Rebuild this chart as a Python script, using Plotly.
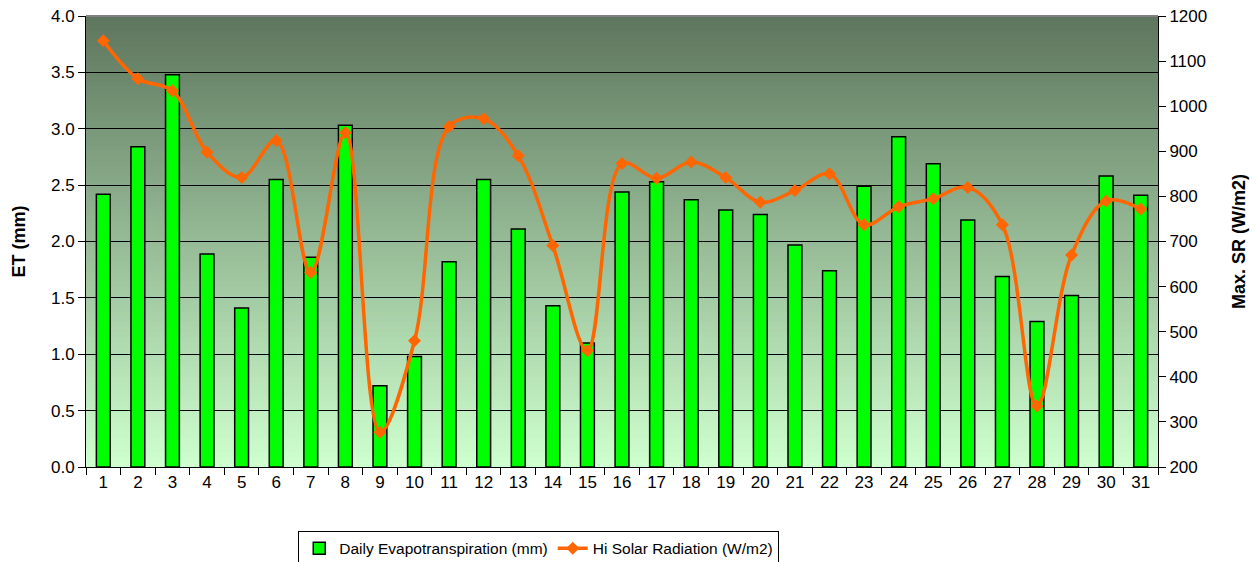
import plotly.graph_objects as go

days = [str(d) for d in range(1, 32)]
et_mm = [2.42, 2.84, 3.48, 1.89, 1.41, 2.55, 1.86, 3.03, 0.72, 0.98,
         1.82, 2.55, 2.11, 1.43, 1.10, 2.44, 2.53, 2.37, 2.28, 2.24,
         1.97, 1.74, 2.49, 2.93, 2.69, 2.19, 1.69, 1.29, 1.52, 2.58, 2.41]
hi_sr = [1145, 1061, 1034, 898, 842, 924, 631, 941, 277, 480,
         955, 972, 890, 691, 458, 873, 840, 876, 842, 787,
         813, 850, 737, 777, 795, 820, 737, 335, 670, 790, 772]

FONT = "Liberation Sans, Arial, sans-serif"

fig = go.Figure()
fig.add_trace(go.Bar(
    x=days, y=et_mm, name="Daily Evapotranspiration (mm)",
    marker=dict(color="#00FF00", line=dict(color="black", width=1.5)),
    yaxis="y",
))
fig.add_trace(go.Scatter(
    x=days, y=hi_sr, name="Hi Solar Radiation (W/m2)",
    mode="lines+markers", line=dict(color="#FF6600", width=3.5, shape="spline", smoothing=1.0),
    marker=dict(symbol="diamond", size=10, color="#FF6600"),
    yaxis="y2",
))

# vertical gradient background in the plot area
top = (94, 118, 94)
bot = (206, 255, 206)
n = 90
shapes = []
for i in range(n):
    t = i / (n - 1)
    c = tuple(int(round(bot[k] + (top[k] - bot[k]) * t)) for k in range(3))
    shapes.append(dict(type="rect", xref="paper", yref="paper",
                       x0=0, x1=1, y0=i / n, y1=min(1, (i + 1) / n + 0.002),
                       fillcolor="rgb(%d,%d,%d)" % c, line=dict(width=0), layer="below"))
shapes.append(dict(type="line", xref="paper", yref="paper", x0=0, x1=1, y0=1, y1=1,
                   line=dict(color="#808080", width=2), layer="above"))

fig.update_layout(
    width=1256, height=562,
    margin=dict(l=86, r=98, t=16, b=95, autoexpand=False),
    paper_bgcolor="white", plot_bgcolor="rgba(0,0,0,0)",
    font=dict(family=FONT, size=17, color="black"),
    bargap=0.6,
    shapes=shapes,
    showlegend=True,
    legend=dict(orientation="h", x=0.198, xanchor="left", y=-0.141, yanchor="top",
                bordercolor="black", borderwidth=1, bgcolor="white",
                font=dict(family=FONT, size=15.5), itemwidth=30,
                tracegroupgap=0),
    xaxis=dict(type="category", range=[-0.5, 30.5], tickson="boundaries", ticks="outside", ticklen=7,
               tickcolor="black", showline=True, linecolor="black", linewidth=1,
               showgrid=False, automargin=False, tickfont=dict(size=17)),
    yaxis=dict(range=[0, 4.0], dtick=0.5, tickformat=".1f", ticks="outside", ticklen=7,
               tickcolor="black", showline=True, linecolor="black", linewidth=1,
               showgrid=True, gridcolor="black", gridwidth=1, zeroline=False, automargin=False,
               title=dict(text="<b>ET (mm)</b>", font=dict(size=18), standoff=20),
               tickfont=dict(size=17)),
    yaxis2=dict(range=[200, 1200], dtick=100, overlaying="y", side="right",
                ticks="outside", ticklen=7, tickcolor="black", showline=True,
                linecolor="black", linewidth=1, showgrid=False, zeroline=False, automargin=False,
                title=dict(text="<b>Max. SR (W/m2)</b>", font=dict(size=18), standoff=26),
                tickfont=dict(size=17)),
)

fig.write_html("out.html", config={"displayModeBar": False},
               post_script="document.body.style.margin='0';document.body.style.padding='0';")
